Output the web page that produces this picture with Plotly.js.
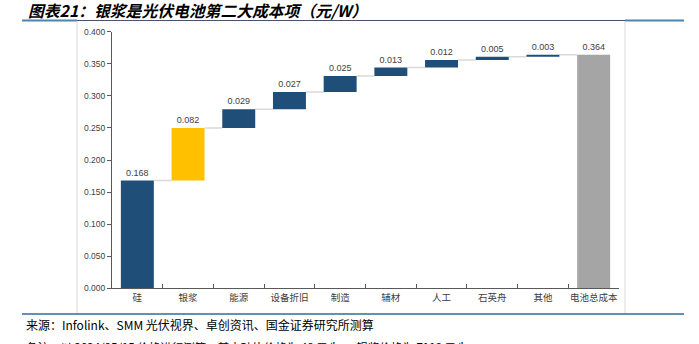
<!DOCTYPE html>
<html>
<head>
<meta charset="utf-8">
<script src="https://cdn.plot.ly/plotly-3.0.1.min.js"></script>
<style>
  html, body { margin: 0; padding: 0; background: #ffffff; }
  #chart { width: 699px; height: 344px; }
</style>
</head>
<body>
<div id="chart"></div>
<script>
// ---- data ----
const categories = ["硅", "银浆", "能源", "设备折旧", "制造", "辅材", "人工", "石英舟", "其他", "电池总成本"];
const costValues = [0.168, 0.082, 0.029, 0.027, 0.025, 0.013, 0.012, 0.005, 0.003, 0.364];
const valueLabels = ["0.168", "0.082", "0.029", "0.027", "0.025", "0.013", "0.012", "0.005", "0.003", "0.364"];
const isTotal = [false, false, false, false, false, false, false, false, false, true];
const highlightCategory = "银浆";
const yTickValues = [0, 0.05, 0.1, 0.15, 0.2, 0.25, 0.3, 0.35, 0.4];

const titleText = "图表21：银浆是光伏电池第二大成本项（元/W）";
const sourceText = "来源：Infolink、SMM 光伏视界、卓创资讯、国金证券研究所测算";
const noteText = "备注：以 2024/05/15 价格进行测算，其中硅片价格为 48 元/kg，银浆价格为 7118 元/kg";

// ---- styles ----
const W = 699, H = 344;
const colBlue = "#1f4e79", colYellow = "#ffc000", colGrey = "#a5a5a5";
const barWidthFrac = 0.65;

// waterfall bases computed from data
const bases = [];
const tops = [];
let run = 0;
costValues.forEach((v, i) => {
  if (isTotal[i]) { bases.push(0); tops.push(v); run = v; }
  else { bases.push(run); run += v; tops.push(run); }
});
const colors = categories.map((c, i) => isTotal[i] ? colGrey : (c === highlightCategory ? colYellow : colBlue));

const px = x => x / W;
const py = y => 1 - y / H;

const shapes = [];
// connectors
for (let i = 0; i < categories.length - 1; i++) {
  shapes.push({
    type: "line", xref: "x", yref: "y", layer: "below",
    x0: i + barWidthFrac / 2, x1: i + 1 - barWidthFrac / 2,
    y0: tops[i], y1: tops[i],
    line: { color: "#d9d9d9", width: 1.5 }
  });
}
// frame decorations
shapes.push({ type: "line", xref: "paper", yref: "paper", x0: px(22), x1: px(684), y0: py(20.5), y1: py(20.5), line: { color: "#44546a", width: 1 } });
shapes.push({ type: "line", xref: "paper", yref: "paper", x0: px(22), x1: px(77), y0: py(20.5), y1: py(20.5), line: { color: "#4a86ad", width: 2 } });
shapes.push({ type: "line", xref: "paper", yref: "paper", x0: px(625), x1: px(684), y0: py(20.5), y1: py(20.5), line: { color: "#4a86ad", width: 2 } });
shapes.push({ type: "line", xref: "paper", yref: "paper", x0: px(77), x1: px(77), y0: py(21), y1: py(313), line: { color: "#d9d9d9", width: 1 } });
shapes.push({ type: "line", xref: "paper", yref: "paper", x0: px(625), x1: px(625), y0: py(21), y1: py(313), line: { color: "#d9d9d9", width: 1 } });
shapes.push({ type: "line", xref: "paper", yref: "paper", x0: px(22), x1: px(684), y0: py(314), y1: py(314), line: { color: "#2e6e99", width: 1.5 } });

const annotations = [
  { text: "<b><i>" + titleText + "</i></b>", xref: "paper", yref: "paper", x: px(26), y: py(10.5), xanchor: "left", yanchor: "middle", showarrow: false,
    font: { family: "Noto Sans CJK SC", size: 15.8, color: "#000000" } },
  { text: sourceText, xref: "paper", yref: "paper", x: px(24), y: py(324.5), xanchor: "left", yanchor: "middle", showarrow: false,
    font: { family: "Noto Sans CJK SC", size: 12, color: "#000000" } },
  { text: noteText, xref: "paper", yref: "paper", x: px(24), y: py(347), xanchor: "left", yanchor: "middle", showarrow: false,
    font: { family: "Noto Sans CJK SC", size: 11.5, color: "#000000" } }
];

const trace = {
  type: "bar",
  x: categories,
  y: costValues,
  base: bases,
  width: barWidthFrac,
  marker: { color: colors, line: { width: 0 } },
  text: valueLabels,
  textposition: "outside",
  cliponaxis: false,
  textfont: { family: "Liberation Sans", size: 9, color: "#404040" },
  hoverinfo: "none"
};

const layout = {
  width: W, height: H,
  margin: { l: 0, r: 0, t: 0, b: 0 },
  paper_bgcolor: "#ffffff",
  plot_bgcolor: "rgba(0,0,0,0)",
  showlegend: false,
  xaxis: {
    type: "category",
    domain: [px(112), px(619)],
    anchor: "y",
    showline: true, linecolor: "#595959", linewidth: 1,
    ticks: "inside", tickson: "boundaries", ticklen: 4, tickcolor: "#595959",
    tickangle: 0,
    tickfont: { family: "Noto Sans CJK SC", size: 9.5, color: "#404040" },
    showgrid: false, zeroline: false, fixedrange: true
  },
  yaxis: {
    domain: [py(288.3), py(31.7)],
    anchor: "x",
    range: [0, 0.4],
    tickvals: yTickValues,
    tickformat: ".3f",
    showline: true, linecolor: "#595959", linewidth: 1,
    ticks: "outside", ticklen: 4, tickcolor: "#595959",
    tickfont: { family: "Liberation Sans", size: 8.5, color: "#404040" },
    showgrid: false, zeroline: false, fixedrange: true
  },
  shapes: shapes,
  annotations: annotations,
  font: { family: "Noto Sans CJK SC" }
};

Plotly.newPlot("chart", [trace], layout, { staticPlot: true, displayModeBar: false });
</script>
</body>
</html>
